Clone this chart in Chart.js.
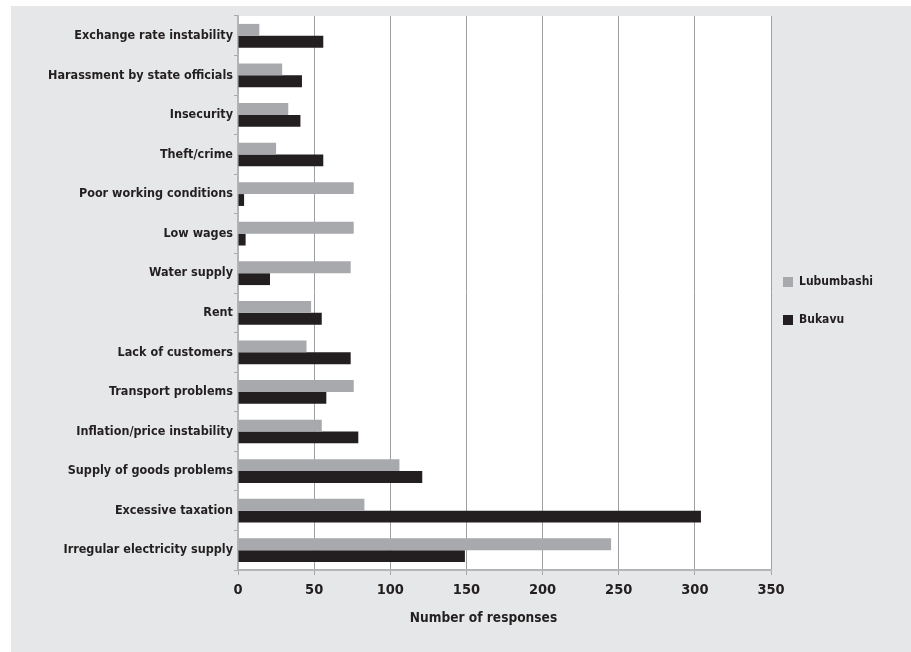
<!DOCTYPE html>
<html>
<head>
<meta charset="utf-8">
<script src="https://cdn.jsdelivr.net/npm/chart.js@4.4.1/dist/chart.umd.min.js"></script>
<style>
  html, body { margin: 0; padding: 0; background: #ffffff; }
  #wrap { position: absolute; left: 11px; top: 6px; width: 900px; height: 646px; background: #e6e7e8; }
  canvas { display: block; }
</style>
</head>
<body>
<div id="wrap"><canvas id="c" width="900" height="646"></canvas></div>
<script>
const categories = [
  "Exchange rate instability",
  "Harassment by state officials",
  "Insecurity",
  "Theft/crime",
  "Poor working conditions",
  "Low wages",
  "Water supply",
  "Rent",
  "Lack of customers",
  "Transport problems",
  "Inflation/price instability",
  "Supply of goods problems",
  "Excessive taxation",
  "Irregular electricity supply"
];
const lubumbashi = [14, 29, 33, 25, 76, 76, 74, 48, 45, 76, 55, 106, 83, 245];
const bukavu     = [56, 42, 41, 56, 4, 5, 21, 55, 74, 58, 79, 121, 304, 149];
const xTicks = [0, 50, 100, 150, 200, 250, 300, 350];
const xTitle = "Number of responses";

const FONT = "'DejaVu Sans Condensed', 'Liberation Sans Narrow', sans-serif";
const INK = "#231f20";

const plotBg = {
  id: 'plotBg',
  beforeDraw(chart) {
    const a = chart.chartArea, ctx = chart.ctx;
    ctx.save();
    ctx.fillStyle = '#ffffff';
    ctx.fillRect(a.left, a.top, a.right - a.left, a.bottom - a.top);
    ctx.restore();
  }
};
const axisTitle = {
  id: 'axisTitle',
  afterDraw(chart) {
    const a = chart.chartArea, ctx = chart.ctx;
    ctx.save();
    ctx.font = "bold 13.6px " + FONT;
    ctx.fillStyle = INK;
    ctx.textAlign = 'center';
    ctx.textBaseline = 'middle';
    ctx.fillText(xTitle, (a.left + a.right) / 2 - 21, a.bottom + 48);
    ctx.restore();
  }
};
const placeLegend = {
  id: 'placeLegend',
  beforeLayout(chart) {
    const lg = chart.legend;
    if (lg && !lg._patched) {
      const f = lg.fit;
      lg.fit = function () { f.call(this); this.width = 140; };
      lg._patched = true;
    }
  },
  afterLayout(chart) {
    const lg = chart.legend, a = chart.chartArea;
    if (!lg) return;
    lg.left = a.right - 14;
    lg.right = lg.left + 140;
    lg.width = 140;
    lg.top = 244;
    lg.bottom = 600;
    lg.height = lg.bottom - lg.top;
  }
};

new Chart(document.getElementById('c'), {
  type: 'bar',
  data: {
    labels: categories,
    datasets: [
      { label: 'Lubumbashi', data: lubumbashi, backgroundColor: '#a7a9ac', borderWidth: 0 },
      { label: 'Bukavu', data: bukavu, backgroundColor: INK, borderWidth: 0 }
    ]
  },
  options: {
    indexAxis: 'y',
    responsive: false,
    animation: false,
    devicePixelRatio: 1,
    layout: { padding: { left: 0, top: 10, right: 0, bottom: 0 } },
    datasets: { bar: { categoryPercentage: 0.6, barPercentage: 1.0 } },
    scales: {
      x: {
        min: 0, max: 350,
        afterBuildTicks(scale) { scale.ticks = xTicks.map(v => ({ value: v })); },
        afterFit(scale) { scale.height = 82; },
        grid: { color: '#9d9fa2', lineWidth: 1, drawTicks: true, tickLength: 5, tickColor: '#a7a9ac' },
        border: { display: true, color: '#b3b5b8', width: 2 },
        ticks: { color: INK, font: { family: FONT, size: 14.5, weight: 'bold' }, padding: 7 }
      },
      y: {
        afterFit(scale) { scale.width = 227; },
        grid: { drawOnChartArea: false, drawTicks: true, tickLength: 4, color: '#a7a9ac' },
        border: { display: true, color: '#b3b5b8', width: 2 },
        ticks: { color: INK, font: { family: FONT, size: 12.5, weight: 'bold' }, padding: 1, autoSkip: false }
      }
    },
    plugins: {
      legend: {
        position: 'right',
        align: 'start',
        labels: {
          boxWidth: 10, boxHeight: 10, padding: 26,
          color: INK,
          font: { family: FONT, size: 12, weight: 'bold' }
        }
      },
      tooltip: { enabled: false }
    }
  },
  plugins: [plotBg, axisTitle, placeLegend]
});
</script>
</body>
</html>
